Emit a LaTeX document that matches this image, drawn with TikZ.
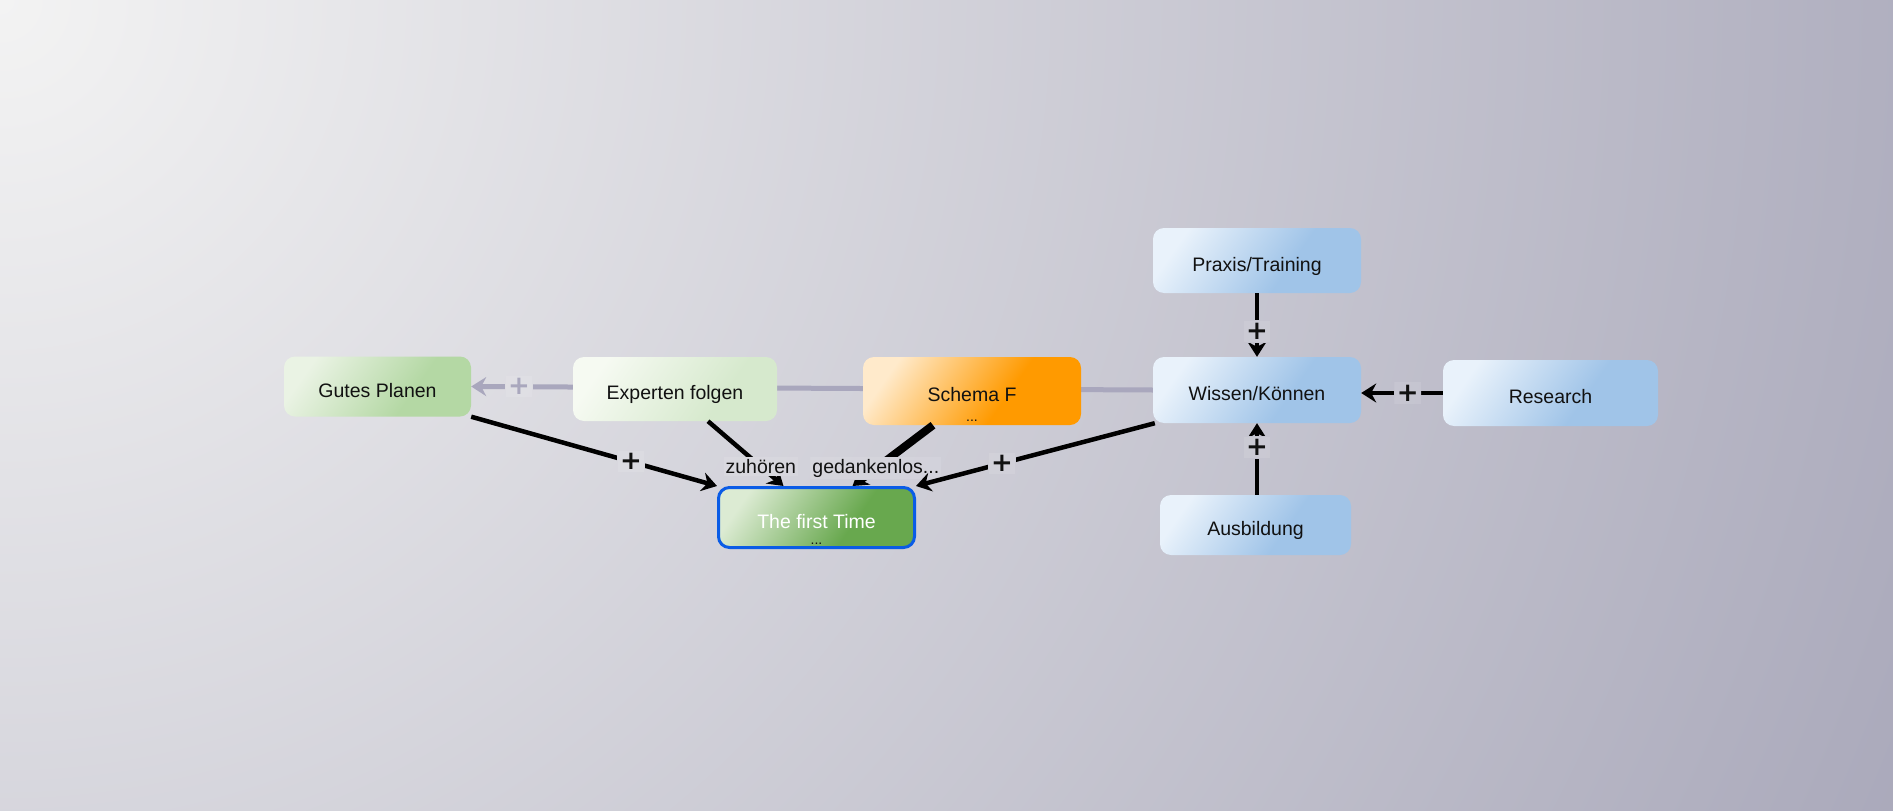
\documentclass[tikz,border=0pt]{standalone}
\usepackage{fontspec}
\setmainfont{Liberation Sans}
\newfontfamily\plusfont{DejaVu Sans}
\usetikzlibrary{arrows.meta}
\definecolor{bgA}{HTML}{F3F3F3}
\definecolor{bgB}{HTML}{A9A8BA}
\definecolor{gpA}{HTML}{EAF3E4}
\definecolor{gpB}{HTML}{B4D8A4}
\definecolor{efA}{HTML}{F6FAF2}
\definecolor{efB}{HTML}{D6E9CD}
\definecolor{sfA}{HTML}{FFEACB}
\definecolor{sfB}{HTML}{FF9A00}
\definecolor{blA}{HTML}{E9F2FB}
\definecolor{blB}{HTML}{A0C4E8}
\definecolor{ftA}{HTML}{DCEBD3}
\definecolor{ftB}{HTML}{68A84E}
\definecolor{ftBorder}{HTML}{0A5CE6}
\definecolor{greyline}{HTML}{A9A7BD}
\definecolor{textcol}{HTML}{111111}
\pgfdeclarehorizontalshading{gpshade}{100bp}{color(0bp)=(gpA); color(25bp)=(gpA); color(62bp)=(gpB); color(100bp)=(gpB)}
\pgfdeclarehorizontalshading{efshade}{100bp}{color(0bp)=(efA); color(25bp)=(efA); color(65bp)=(efB); color(100bp)=(efB)}
\pgfdeclarehorizontalshading{sfshade}{100bp}{color(0bp)=(sfA); color(25bp)=(sfA); color(60bp)=(sfB); color(100bp)=(sfB)}
\pgfdeclarehorizontalshading{blshade}{100bp}{color(0bp)=(blA); color(25bp)=(blA); color(60bp)=(blB); color(100bp)=(blB)}
\pgfdeclarehorizontalshading{ftshade}{100bp}{color(0bp)=(ftA); color(25bp)=(ftA); color(62bp)=(ftB); color(100bp)=(ftB)}
\pgfdeclarelayer{back}
\pgfdeclarelayer{bg}
\pgfsetlayers{back,bg,main}
\tikzset{
  box/.style={rounded corners=11pt, inner sep=0pt, text=textcol,
    font=\fontsize{19.5}{21}\selectfont, text height=21pt, text depth=0pt,
    shading angle=-35},
  dotsnode/.style={anchor=base, inner sep=0pt, font=\fontsize{14}{16}\selectfont},
  labbg/.style={path picture={
      \shade[inner color=bgA, outer color=bgB] (origin) circle [radius=2100pt];
      \fill[white, opacity=0.1] (path picture bounding box.south west) rectangle (path picture bounding box.north east);}},
  lab/.style={labbg, inner sep=2pt, text=textcol, font=\fontsize{19.5}{21}\selectfont},
  plus/.style={labbg, inner sep=2.5pt, text=textcol, font=\plusfont\bfseries\fontsize{26}{26}\selectfont},
  greylab/.style={plus, text=greyline},
  conn/.style={line width=4.5pt, draw=black, -{Stealth[length=15pt,width=19pt,inset=5pt]}},
  greyedge/.style={line width=5pt, draw=greyline, -{Stealth[length=15pt,width=19pt,inset=5pt]}}
}
\begin{document}
\begin{tikzpicture}[x=1pt, y=-1pt]
\useasboundingbox (0,0) rectangle (1893,811);
\coordinate (origin) at (0,0);
\begin{pgfonlayer}{back}
  \clip (0,0) rectangle (1893,811);
  \shade[inner color=bgA, outer color=bgB] (origin) circle [radius=2100pt];
\end{pgfonlayer}

\node[box, shading=gpshade, minimum width=187pt, minimum height=60pt] (gutes) at (377.5,386.5) {Gutes Planen};
\node[box, shading=efshade, minimum width=204pt, minimum height=64pt] (experten) at (675,389) {Experten folgen};
\node[box, shading=sfshade, minimum width=218pt, minimum height=68pt] (schema) at (972,391) {Schema F};
\node[box, shading=blshade, minimum width=208pt, minimum height=66pt] (wissen) at (1257,390) {Wissen/Können};
\node[box, shading=blshade, minimum width=208pt, minimum height=65pt] (praxis) at (1257,260.5) {Praxis/Training};
\node[box, shading=blshade, minimum width=215pt, minimum height=66pt] (research) at (1550.5,393) {Research};
\node[box, shading=blshade, minimum width=191pt, minimum height=60pt] (ausbildung) at (1255.5,525) {Ausbildung};
\node[box, shading=ftshade, draw=ftBorder, line width=3pt, text=white, minimum width=196pt, minimum height=60pt] (first) at (816.5,517.5) {The first Time};
\node[dotsnode, text=textcol, yshift=4pt] (schemadots) at (schema.south) {...};
\node[dotsnode, text=textcol, yshift=5pt] (firstdots) at (first.south) {...};

\begin{pgfonlayer}{bg}
  \draw[greyedge] (wissen.west) -- node[pos=0.93, greylab] (greyplus) {+} (gutes.east);
\end{pgfonlayer}

\draw[conn] (gutes.south east) -- node[pos=0.65, plus] (p1) {+} (first.north west);
\draw[conn] ([xshift=33pt]experten.south) -- node[pos=0.7, lab] (l1) {zuhören} ([xshift=-33pt]first.north);
\draw[conn, line width=8pt] ([xshift=-39pt]schema.south) -- node[pos=0.71, lab] (l2) {gedankenlos...} ([xshift=36pt]first.north);
\draw[conn] ([xshift=2pt]wissen.south west) -- node[pos=0.64, plus] (p2) {+} (first.north east);
\draw[conn] (praxis.south) -- node[pos=0.6, plus] (p3) {+} (wissen.north);
\draw[conn] (wissen.south |- ausbildung.north) -- node[pos=0.66, plus] (p4) {+} (wissen.south);
\draw[conn] (research.west) -- node[pos=0.43, plus] (p5) {+} (research.west -| wissen.east);
\end{tikzpicture}
\end{document}
